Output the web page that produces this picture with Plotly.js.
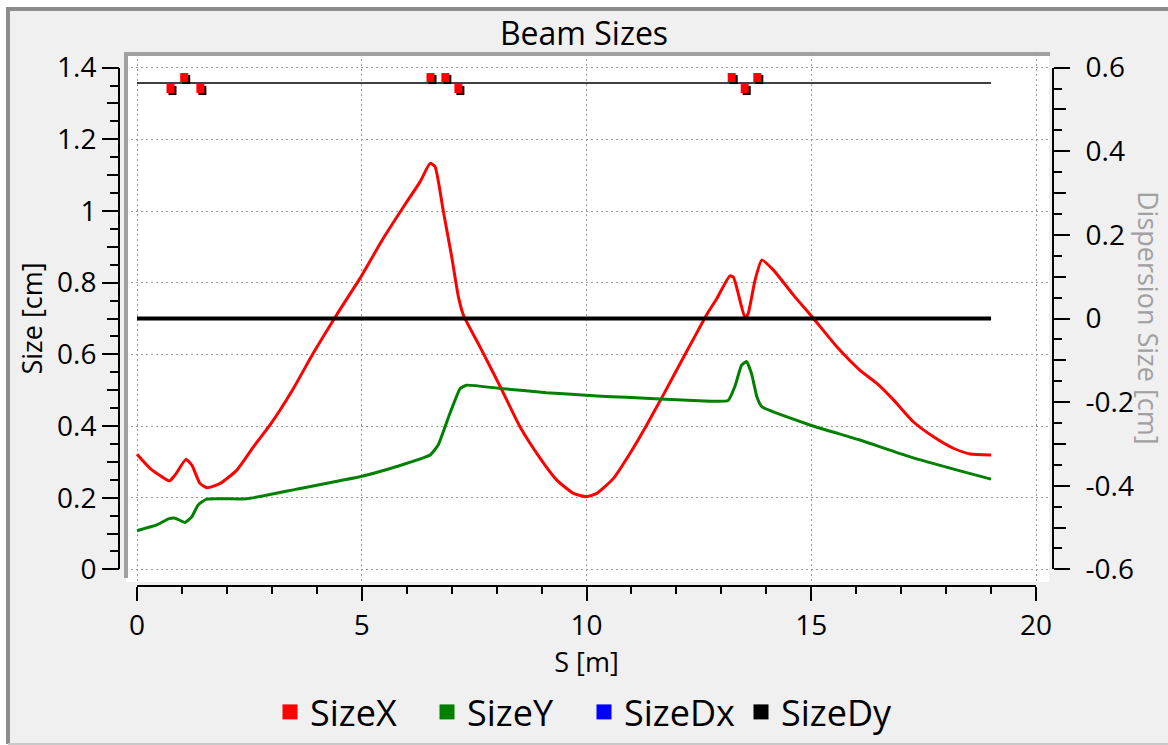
<!DOCTYPE html>
<html>
<head>
<meta charset="utf-8">
<script src="https://cdn.plot.ly/plotly-3.0.1.min.js"></script>
<style>html,body{margin:0;padding:0;background:#fff;}#chart{width:1168px;height:745px;}</style>
</head>
<body>
<div id="chart"></div>
<script>
// ---- data ----
const S_X = [0, 0.29, 0.72, 0.845, 1.09, 1.22, 1.40, 1.56, 1.85, 2.22, 2.59, 2.96, 3.48, 3.92, 4.44, 4.96, 5.48, 5.93, 6.30, 6.52, 6.63, 6.81, 7.00, 7.15, 7.26, 7.63, 8.08, 8.52, 8.97, 9.34, 9.71, 10.0, 10.23, 10.6, 10.97, 11.34, 11.71, 12.15, 12.38, 12.67, 12.9, 13.19, 13.27, 13.53, 13.60, 13.75, 13.90, 14.16, 14.60, 15.05, 15.57, 16.08, 16.46, 16.83, 17.27, 17.72, 18.16, 18.53, 19.0];
const SIZE_X = [0.321, 0.282, 0.247, 0.263, 0.307, 0.291, 0.240, 0.228, 0.240, 0.277, 0.342, 0.403, 0.505, 0.603, 0.710, 0.812, 0.924, 1.012, 1.082, 1.133, 1.124, 1.003, 0.873, 0.761, 0.710, 0.621, 0.510, 0.398, 0.310, 0.249, 0.212, 0.203, 0.212, 0.254, 0.324, 0.403, 0.487, 0.590, 0.643, 0.710, 0.756, 0.819, 0.815, 0.700, 0.715, 0.807, 0.863, 0.835, 0.766, 0.700, 0.621, 0.556, 0.519, 0.473, 0.412, 0.370, 0.338, 0.322, 0.319];
const S_Y = [0, 0.44, 0.70, 0.85, 1.07, 1.22, 1.36, 1.55, 2.44, 3.55, 4.98, 5.78, 6.52, 6.70, 6.96, 7.19, 7.33, 8.08, 9.11, 10.23, 10.89, 12.38, 13.15, 13.30, 13.45, 13.56, 13.67, 13.79, 13.90, 14.97, 16.08, 17.20, 18.31, 19.0];
const SIZE_Y = [0.108, 0.124, 0.141, 0.143, 0.131, 0.147, 0.180, 0.196, 0.197, 0.224, 0.259, 0.287, 0.319, 0.347, 0.435, 0.505, 0.514, 0.505, 0.493, 0.484, 0.480, 0.471, 0.471, 0.510, 0.570, 0.580, 0.547, 0.482, 0.454, 0.403, 0.361, 0.314, 0.275, 0.252];
const S_D = [0, 19];
const SIZE_DX = [0, 0];
const SIZE_DY = [0, 0];
const LATTICE_S = [0, 19];
const LATTICE_LEVEL = [1.357, 1.357];
const QUAD_S = [0.745, 1.05, 1.41, 6.53, 6.86, 7.15, 13.23, 13.52, 13.80];
const QUAD_SIGN = [-1, 1, -1, 1, 1, -1, 1, -1, 1];
const SERIES_NAMES = ['SizeX', 'SizeY', 'SizeDx', 'SizeDy'];
const SERIES_COLORS = ['#ff0000', '#008000', '#0000ff', '#000000'];
const X_TICKS = [0, 5, 10, 15, 20];
const X_TICK_TEXT = ['0', '5', '10', '15', '20'];
const L_TICKS = [0, 0.2, 0.4, 0.6, 0.8, 1, 1.2, 1.4];
const L_TICK_TEXT = ['0', '0.2', '0.4', '0.6', '0.8', '1', '1.2', '1.4'];
const R_TICKS = [-0.6, -0.4, -0.2, 0, 0.2, 0.4, 0.6];
const R_TICK_TEXT = ['-0.6', '-0.4', '-0.2', '0', '0.2', '0.4', '0.6'];

// ---- geometry (pixels of the 1168x745 page) ----
const W = 1168, H = 745;
const px = v => v / W;
const py = v => 1 - v / H;
const FONT = 'Open Sans, Noto Sans, sans-serif';

const traces = [
  {x: LATTICE_S, y: LATTICE_LEVEL, mode: 'lines', line: {color: '#000', width: 1.5}, showlegend: false, hoverinfo: 'skip', xaxis: 'x', yaxis: 'y'},
  {x: S_X, y: SIZE_X, name: SERIES_NAMES[0], legendgroup: 'a', mode: 'lines', line: {color: SERIES_COLORS[0], width: 3, shape: 'spline', smoothing: 0.5}, showlegend: false, xaxis: 'x', yaxis: 'y'},
  {x: S_Y, y: SIZE_Y, name: SERIES_NAMES[1], legendgroup: 'b', mode: 'lines', line: {color: SERIES_COLORS[1], width: 3, shape: 'spline', smoothing: 0.4}, showlegend: false, xaxis: 'x', yaxis: 'y'},
  {x: S_D, y: SIZE_DX, name: SERIES_NAMES[2], legendgroup: 'c', mode: 'lines', line: {color: SERIES_COLORS[2], width: 2}, showlegend: false, xaxis: 'x', yaxis: 'y2'},
  {x: S_D, y: SIZE_DY, name: SERIES_NAMES[3], legendgroup: 'd', mode: 'lines', line: {color: SERIES_COLORS[3], width: 4}, showlegend: false, xaxis: 'x', yaxis: 'y2'}
];
['a', 'b', 'c', 'd'].forEach((g, i) => {
  traces.push({x: [null], y: [null], name: SERIES_NAMES[i], legendgroup: g, mode: 'markers',
    marker: {symbol: 'square', size: 15, color: SERIES_COLORS[i], line: {width: 0}}, xaxis: 'x', yaxis: 'y', hoverinfo: 'skip'});
});
// decorative axis carriers
['y3', 'y4', 'y5', 'y6'].forEach(ya => traces.push({x: [null], y: [null], xaxis: 'x2', yaxis: ya, showlegend: false, hoverinfo: 'skip'}));

const shapes = [
  {type: 'rect', xref: 'paper', yref: 'paper', x0: px(8), x1: px(W + 10), y0: py(744), y1: py(9), fillcolor: '#f0f0f0', line: {width: 0}, layer: 'below'},
  {type: 'line', xref: 'paper', yref: 'paper', x0: px(8), x1: px(8), y0: py(744), y1: py(7), line: {color: '#8c8c8c', width: 4}, layer: 'below'},
  {type: 'line', xref: 'paper', yref: 'paper', x0: px(6), x1: px(W + 10), y0: py(9), y1: py(9), line: {color: '#8c8c8c', width: 4}, layer: 'below'},
  {type: 'line', xref: 'paper', yref: 'paper', x0: px(8), x1: px(W + 10), y0: py(744), y1: py(744), line: {color: '#c8c8c8', width: 2}, layer: 'below'},
  {type: 'rect', xref: 'paper', yref: 'paper', x0: px(126), x1: px(1049), y0: py(582), y1: py(54), fillcolor: '#ffffff', line: {width: 0}, layer: 'below'},
  {type: 'line', xref: 'paper', yref: 'paper', x0: px(124), x1: px(1050), y0: py(54), y1: py(54), line: {color: '#a0a0a0', width: 4}, layer: 'below'},
  {type: 'line', xref: 'paper', yref: 'paper', x0: px(126), x1: px(126), y0: py(578), y1: py(54), line: {color: '#a0a0a0', width: 4}, layer: 'below'}
];
QUAD_S.forEach((s, i) => {
  const up = QUAD_SIGN[i] > 0;
  const a = up ? 1 : -1, b = up ? 10 : -10;
  shapes.push({type: 'rect', xref: 'x', yref: 'y', xsizemode: 'pixel', ysizemode: 'pixel', xanchor: s, yanchor: LATTICE_LEVEL[0],
    x0: -2, x1: 6, y0: Math.min(a, b) - 2, y1: Math.max(a, b) - 2, fillcolor: '#000', line: {width: 0}});
  shapes.push({type: 'rect', xref: 'x', yref: 'y', xsizemode: 'pixel', ysizemode: 'pixel', xanchor: s, yanchor: LATTICE_LEVEL[0],
    x0: -4, x1: 4, y0: Math.min(a, b), y1: Math.max(a, b), fillcolor: '#ff0000', line: {width: 0}});
});

const gridStyle = {showgrid: true, gridcolor: '#9a9a9a', gridwidth: 1, griddash: '2px,3px', zeroline: false, showline: false, ticks: '', showticklabels: false, fixedrange: true};
const tickFont = {family: FONT, size: 28, color: '#000'};

const layout = {
  width: W, height: H,
  margin: {l: 0, r: 0, t: 0, b: 0},
  paper_bgcolor: '#ffffff',
  plot_bgcolor: 'rgba(0,0,0,0)',
  font: {family: FONT, color: '#000'},
  title: {text: 'Beam Sizes', font: {family: FONT, size: 32, color: '#000'}, x: 0.5, xref: 'paper', xanchor: 'center', y: py(34), yref: 'paper', yanchor: 'middle'},
  showlegend: true,
  legend: {orientation: 'h', x: 0.5, xanchor: 'center', y: py(712), yanchor: 'middle', font: {family: FONT, size: 36, color: '#000'}, bgcolor: 'rgba(0,0,0,0)', itemclick: false, itemdoubleclick: false, tracegroupgap: 0, entrywidth: 112, entrywidthmode: 'pixels'},
  xaxis: Object.assign({}, gridStyle, {domain: [px(126), px(1049)], range: [-(137 - 126) / 44.95, (1049 - 137) / 44.95], tickvals: X_TICKS, anchor: 'y'}),
  yaxis: Object.assign({}, gridStyle, {domain: [py(582), py(54)], range: [-(582 - 569.4) / 358.4, (569.4 - 54) / 358.4], tickvals: L_TICKS, anchor: 'x'}),
  yaxis2: {overlaying: 'y', side: 'right', anchor: 'x', showgrid: false, zeroline: false, showline: false, ticks: '', showticklabels: false,
    range: [((-(582 - 569.4) / 358.4) - 0.7) * 6 / 7, (((569.4 - 54) / 358.4) - 0.7) * 6 / 7], fixedrange: true},
  xaxis2: {domain: [px(137), px(1036)], range: [0, 20], anchor: 'free', position: py(586), side: 'bottom',
    showgrid: false, zeroline: false, showline: true, linecolor: '#000', linewidth: 2,
    ticks: 'outside', ticklen: 14, tickwidth: 2, tickcolor: '#000', tickmode: 'array', tickvals: X_TICKS, ticktext: X_TICK_TEXT,
    minor: {dtick: 1, tick0: 0, ticklen: 7, tickwidth: 2, tickcolor: '#000', ticks: 'outside', showgrid: false},
    tickfont: tickFont, title: {text: 'S [m]', font: {family: FONT, size: 27, color: '#000'}, standoff: 0}, automargin: false, fixedrange: true},
  yaxis3: {domain: [py(569.4), py(67.6)], range: [0, 1.4], anchor: 'free', position: px(119), side: 'left',
    showgrid: false, zeroline: false, showline: true, linecolor: '#000', linewidth: 2,
    ticks: 'outside', ticklen: 16, tickwidth: 2, tickcolor: '#000', tickmode: 'array', tickvals: L_TICKS, ticktext: L_TICK_TEXT,
    minor: {dtick: 0.05, tick0: 0, ticklen: 8, tickwidth: 2, tickcolor: '#000', ticks: 'outside', showgrid: false},
    tickfont: tickFont, title: {text: 'Size [cm]', font: {family: FONT, size: 27, color: '#000'}, standoff: 6}, fixedrange: true},
  yaxis4: {domain: [py(569.4), py(67.6)], range: [-0.6, 0.6], anchor: 'free', position: px(1053), side: 'right',
    showgrid: false, zeroline: false, showline: true, linecolor: '#000', linewidth: 2,
    ticks: 'outside', ticklen: 16, tickwidth: 2, tickcolor: '#000', tickmode: 'array', tickvals: R_TICKS, ticktext: R_TICK_TEXT,
    minor: {dtick: 0.05, tick0: 0, ticklen: 8, tickwidth: 2, tickcolor: '#000', ticks: 'outside', showgrid: false},
    ticklabelstandoff: 10, tickfont: tickFont, fixedrange: true},
  yaxis5: {domain: [py(569.4), py(67.6)], range: [0, 1.4], anchor: 'free', position: px(119), side: 'left', overlaying: 'y3',
    showgrid: false, zeroline: false, showline: false, ticks: 'outside', ticklen: 12, tickwidth: 2, tickcolor: '#000', dtick: 0.1, tick0: 0, showticklabels: false, fixedrange: true},
  yaxis6: {domain: [py(569.4), py(67.6)], range: [-0.6, 0.6], anchor: 'free', position: px(1053), side: 'right', overlaying: 'y4',
    showgrid: false, zeroline: false, showline: false, ticks: 'outside', ticklen: 12, tickwidth: 2, tickcolor: '#000', dtick: 0.1, tick0: 0, showticklabels: false, fixedrange: true},
  shapes: shapes,
  annotations: [
    {text: 'Dispersion Size [cm]', xref: 'paper', yref: 'paper', x: px(1149), y: py(318), xanchor: 'center', yanchor: 'middle', textangle: 90, showarrow: false,
      font: {family: FONT, size: 27, color: '#a0a0a0'}}
  ]
};

Plotly.newPlot('chart', traces, layout, {displayModeBar: false, staticPlot: true});
</script>
</body>
</html>
